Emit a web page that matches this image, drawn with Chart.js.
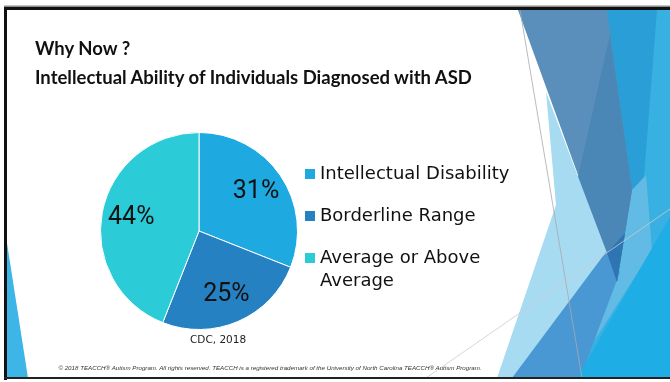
<!DOCTYPE html>
<html>
<head>
<meta charset="utf-8">
<script src="https://cdn.jsdelivr.net/npm/chart.js"></script>
<style>
  html, body { margin: 0; padding: 0; background: #fff; }
  #slide { position: relative; width: 670px; height: 382px; overflow: hidden; background: #fff; }
  #deco, #chartBox { position: absolute; left: 0; top: 0; }
  #chartBox { width: 670px; height: 382px; }
  .title { position: absolute; left: 35px; top: 34px; font: bold 18.5px Lato, sans-serif; line-height: 29px; color: #111; }
  .source { position: absolute; left: 190px; top: 333px; font: 10.5px "DejaVu Sans", sans-serif; color: #222; }
  .footer { position: absolute; left: 0; width: 540px; top: 364px; text-align: center; font: italic 6.2px "Liberation Sans", Arial, sans-serif; color: #333; }
</style>
</head>
<body>
<div id="slide">
  <svg id="deco" width="670" height="382">
    <!-- right side facets -->
    <polygon points="600,10 670,10 670,378 560,378" fill="#38b0e2"/>
    <polygon points="607,10 657,10 643,190 622,290 617,282" fill="#2a9fd7"/>
    <polygon points="632,190 646,175 652,250 595,340" fill="#62bbe5"/>
    <polygon points="518,10 607,10 632,190 617,282" fill="#5a8ebb"/>
    <polygon points="610,35 632,190 617,282 575,190" fill="#4a86b6"/>
    <polygon points="546,92 607,253 515,378 497,378 556,205" fill="#a6dbf2"/>
    <polygon points="606,252 620,272 580,378 512,378" fill="#4a98d3"/>
    <polygon points="607,253 625,233 617,282" fill="#2d76b3"/>
    <polygon points="577,378 670,217 670,378" fill="#1fade5"/>
    <line x1="520" y1="10" x2="582" y2="378" stroke="#aaa" stroke-width="0.8"/>
    <line x1="426" y1="378" x2="670" y2="209" stroke="#ccc" stroke-width="0.8"/>
    <!-- left sliver -->
    <polygon points="7,243 7,378 28,378" fill="#3db5e6"/>
    <!-- frame -->
    <rect x="4" y="5.5" width="666" height="1.5" fill="#8c8c8c"/>
    <rect x="4" y="7" width="666" height="3" fill="#111"/>
    <rect x="4" y="7" width="3" height="373" fill="#111"/>
    <rect x="4" y="377" width="666" height="2" fill="#222"/>
  </svg>
  <div id="chartBox"><canvas id="myChart"></canvas></div>
  <div class="title">Why Now ?<br>Intellectual Ability of Individuals Diagnosed with ASD</div>
  <div class="source">CDC, 2018</div>
  <div class="footer">© 2018 TEACCH® Autism Program. All rights reserved. TEACCH is a registered trademark of the University of North Carolina TEACCH® Autism Program.</div>
</div>
<script>
var categories = ["Intellectual Disability", "Borderline Range", "Average or Above Average"];
var shares = [31, 25, 44];
var sliceColors = ["#1ea9e1", "#2681c3", "#2bccd7"];

// percentage text inside each slice
var sliceLabels = {
    id: 'sliceLabels',
    afterDatasetsDraw: function(chart) {
        var ctx = chart.ctx;
        var meta = chart.getDatasetMeta(0);
        ctx.save();
        ctx.font = '25px Roboto';
        ctx.fillStyle = '#111';
        ctx.textAlign = 'center';
        ctx.textBaseline = 'middle';
        meta.data.forEach(function(arc, i) {
            var p = arc.getProps(['x', 'y', 'startAngle', 'endAngle', 'outerRadius'], true);
            var mid = (p.startAngle + p.endAngle) / 2;
            var r = p.outerRadius * 0.7;
            ctx.fillText(shares[i] + '%', p.x + Math.cos(mid) * r, p.y + Math.sin(mid) * r);
        });
        ctx.restore();
    }
};

// legend to the right of the pie, wrapping long names
var sideLegend = {
    id: 'sideLegend',
    afterDraw: function(chart) {
        var ctx = chart.ctx;
        var x = 305, y = 174, gap = 42, lineH = 23, maxW = 190;
        ctx.save();
        ctx.font = '18px "DejaVu Sans"';
        ctx.textBaseline = 'middle';
        chart.data.labels.forEach(function(label, i) {
            var words = label.split(' '), lines = [], cur = '';
            words.forEach(function(w) {
                var test = cur ? cur + ' ' + w : w;
                if (ctx.measureText(test).width > maxW && cur) { lines.push(cur); cur = w; }
                else cur = test;
            });
            lines.push(cur);
            ctx.fillStyle = chart.data.datasets[0].backgroundColor[i];
            ctx.fillRect(x, y - 5, 10, 10);
            ctx.fillStyle = '#111';
            lines.forEach(function(l, k) { ctx.fillText(l, x + 15, y + k * lineH); });
            y += gap;
        });
        ctx.restore();
    }
};

var ctx = document.getElementById("myChart").getContext('2d');

var myChart = new Chart(ctx, {
    type: 'pie',
    data: {
        labels: categories,
        datasets: [{
            data: shares,
            backgroundColor: sliceColors,
            borderColor: '#ffffff',
            borderWidth: 1
        }]
    },
    options: {
        responsive: true,
        maintainAspectRatio: false,
        animation: false,
        layout: { padding: { left: 100, right: 372, top: 132, bottom: 52 } },
        plugins: {
            legend: { display: false },
            tooltip: { enabled: false }
        }
    },
    plugins: [sliceLabels, sideLegend]
});
</script>
</body>
</html>
